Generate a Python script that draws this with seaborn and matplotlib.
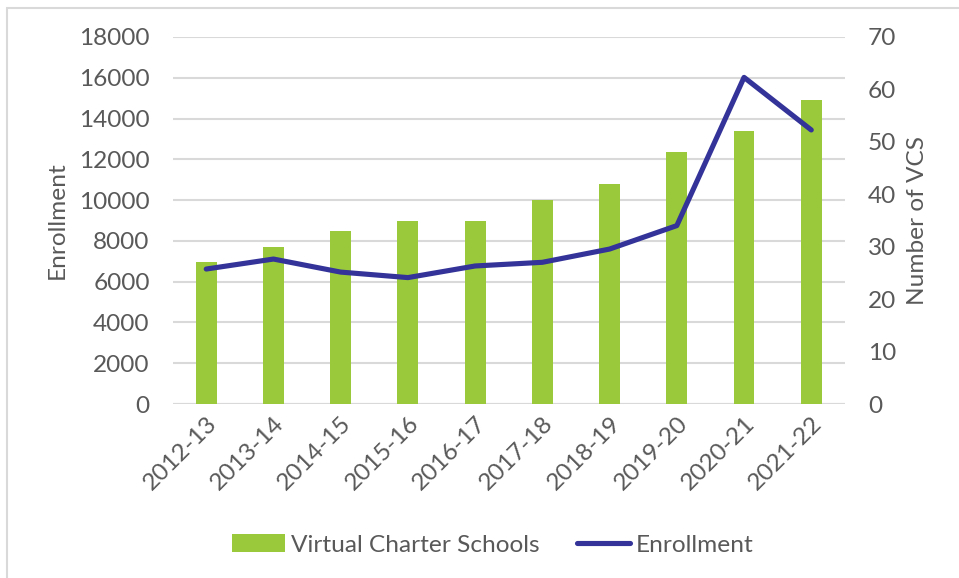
import matplotlib
matplotlib.use("Agg")
import matplotlib.pyplot as plt
from matplotlib.lines import Line2D
from matplotlib.patches import Patch
import seaborn as sns
import pandas as pd
import numpy as np

years = ["2012-13", "2013-14", "2014-15", "2015-16", "2016-17",
         "2017-18", "2018-19", "2019-20", "2020-21", "2021-22"]
vcs_counts = [27, 30, 33, 35, 35, 39, 42, 48, 52, 58]
enrollment = [6620, 7110, 6470, 6200, 6770, 6950, 7600, 8750, 16020, 13440]
left_ticks = list(range(0, 18001, 2000))
right_ticks = list(range(0, 71, 10))

sns.set_theme(style="white")
plt.rcParams['font.family'] = ['Lato', 'DejaVu Sans']
TXT = "#595959"
GREEN = "#9aca3c"
BLUE = "#333399"
GRID = "#d9d9d9"
FS = 17.6

df = pd.DataFrame({"year": years, "vcs": vcs_counts, "enroll": enrollment})

fig = plt.figure(figsize=(9.59, 5.78), dpi=100)
ax = fig.add_axes([0.180, 0.301, 0.701, 0.635])  # left scale + grid
ax2 = ax.twinx()  # bars, right scale
ax3 = ax.twinx()  # line, left scale

ax.set_zorder(1)
ax2.set_zorder(2)
ax3.set_zorder(3)
for a in (ax2, ax3):
    a.patch.set_visible(False)

# grid on base axis
ax.set_ylim(0, 18000)
ax.set_yticks(left_ticks)
ax.yaxis.grid(True, color=GRID, linewidth=1.5)
ax.xaxis.grid(False)

# bars
sns.barplot(data=df, x="year", y="vcs", ax=ax2, color=GREEN, width=0.31,
            saturation=1, edgecolor="none")
ax2.set_ylim(0, 70)
ax2.set_yticks(right_ticks)
ax2.set_ylabel("Number of VCS", color=TXT, fontsize=FS, labelpad=8)
ax2.tick_params(axis="y", colors=TXT, labelsize=FS, length=0, pad=16.5)

# line
sns.lineplot(x=np.arange(len(years)), y=enrollment, ax=ax3, color=BLUE,
             linewidth=3.7, solid_capstyle="round")
ax3.set_ylim(0, 18000)
ax3.set_yticks([])
ax3.set_ylabel("")

for a in (ax, ax2, ax3):
    a.set_xlim(-0.5, 9.5)
    for s in a.spines.values():
        s.set_visible(False)

ax.set_xticks(range(len(years)))
ax.set_xticklabels(years, rotation=45, ha="right", rotation_mode="anchor")
ax.tick_params(axis="x", colors=TXT, labelsize=FS, length=0, pad=6)
ax.tick_params(axis="y", colors=TXT, labelsize=FS, length=0, pad=16.5)
ax.set_ylabel("Enrollment", color=TXT, fontsize=FS, labelpad=8)
ax.set_xlabel("")
ax2.set_xlabel("")
ax2.tick_params(axis="x", bottom=False, labelbottom=False)
ax3.tick_params(axis="x", bottom=False, labelbottom=False, top=False, labeltop=False)

# baseline
ax.axhline(0, color=GRID, linewidth=1.5)

handles = [Patch(facecolor=GREEN, edgecolor="none", label="Virtual Charter Schools"),
           Line2D([0], [0], color=BLUE, linewidth=3.7, label="Enrollment")]
leg = fig.legend(handles=handles, loc="center", bbox_to_anchor=(0.514, 0.057),
                 ncol=2, frameon=False, fontsize=FS, handlelength=2.15,
                 handletextpad=0.25, columnspacing=1.55)
for t in leg.get_texts():
    t.set_color(TXT)

# figure border (cropped frame)
fig.add_artist(Line2D([7 / 959, 1], [1 - 8 / 578, 1 - 8 / 578], transform=fig.transFigure,
                      color=GRID, linewidth=1.5))
fig.add_artist(Line2D([7 / 959, 7 / 959], [0, 1 - 8 / 578], transform=fig.transFigure,
                      color=GRID, linewidth=1.5))

fig.savefig("out.png", dpi=100)
